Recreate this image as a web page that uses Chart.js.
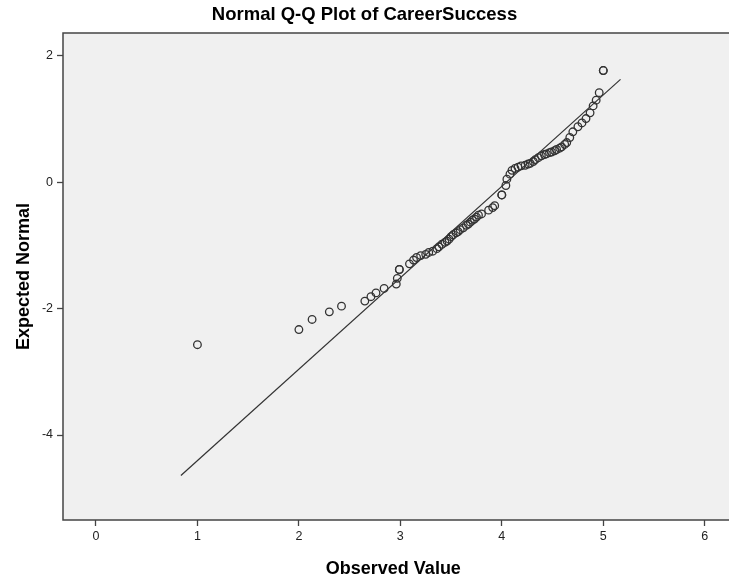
<!DOCTYPE html>
<html>
<head>
<meta charset="utf-8">
<script src="https://cdn.jsdelivr.net/npm/chart.js@4"></script>
<style>
  html, body { margin: 0; padding: 0; background: #ffffff; }
  #wrap { width: 729px; height: 580px; }
</style>
</head>
<body>
<div id="wrap"><canvas id="qqChart" width="729" height="580"></canvas></div>
<script>
// observed values and their expected normal scores (ties drawn twice)
var observed = [1.00, 2.00, 2.13, 2.30, 2.42, 2.65, 2.71, 2.76, 2.84, 2.96, 2.97, 2.99, 2.99,
    3.09, 3.13, 3.16, 3.20, 3.25, 3.28, 3.32, 3.36, 3.38, 3.41, 3.44, 3.46, 3.48, 3.50,
    3.52, 3.55, 3.57, 3.59, 3.62, 3.65, 3.67, 3.69, 3.71, 3.73, 3.75, 3.77, 3.80, 3.87,
    3.91, 3.93, 4.00, 4.00, 4.04, 4.05, 4.08, 4.10, 4.13, 4.16, 4.19, 4.23, 4.26, 4.28,
    4.31, 4.33, 4.36, 4.39, 4.42, 4.44, 4.47, 4.49, 4.52, 4.54, 4.57, 4.59, 4.62, 4.64,
    4.67, 4.70, 4.75, 4.79, 4.83, 4.87, 4.90, 4.93, 4.96, 5.00, 5.00];
var expected = [-2.57, -2.33, -2.17, -2.05, -1.96, -1.88, -1.81, -1.75, -1.68, -1.61, -1.52, -1.38, -1.38,
    -1.29, -1.23, -1.19, -1.16, -1.14, -1.11, -1.09, -1.05, -1.02, -0.98, -0.95, -0.93, -0.90, -0.86,
    -0.83, -0.80, -0.78, -0.75, -0.72, -0.68, -0.66, -0.63, -0.60, -0.58, -0.55, -0.52, -0.50, -0.44,
    -0.40, -0.37, -0.20, -0.20, -0.05, 0.05, 0.13, 0.19, 0.22, 0.24, 0.26, 0.27, 0.29, 0.30,
    0.33, 0.36, 0.39, 0.42, 0.44, 0.45, 0.47, 0.48, 0.50, 0.52, 0.54, 0.56, 0.60, 0.63,
    0.71, 0.80, 0.88, 0.94, 1.01, 1.10, 1.21, 1.30, 1.42, 1.77, 1.77];

// reference line ends
var lineX = [0.837, 5.17];
var lineY = [-4.64, 1.63];

var xTicks = [0, 1, 2, 3, 4, 5, 6];
var yTicks = [-4, -2, 0, 2];

var points = observed.map(function(v, i) { return { x: v, y: expected[i] }; });
var linePts = lineX.map(function(v, i) { return { x: v, y: lineY[i] }; });

var fontFam = "'Liberation Sans', Arial, sans-serif";

// grey plot background + frame (plot runs off the right edge)
var plotFrame = {
    id: 'plotFrame',
    beforeDatasetsDraw: function(chart) {
        var a = chart.chartArea, c = chart.ctx, w = chart.width;
        c.save();
        c.fillStyle = '#f0f0f0';
        c.fillRect(a.left, a.top, w - a.left, a.bottom - a.top);
        c.strokeStyle = '#444';
        c.lineWidth = 1.5;
        c.beginPath();
        c.moveTo(w, a.top);
        c.lineTo(a.left, a.top);
        c.lineTo(a.left, a.bottom);
        c.lineTo(w, a.bottom);
        c.stroke();
        c.restore();
    }
};

var ctx = document.getElementById('qqChart').getContext('2d');
var qqChart = new Chart(ctx, {
    type: 'scatter',
    data: {
        datasets: [{
            type: 'line',
            data: linePts,
            borderColor: '#333',
            borderWidth: 1.2,
            pointRadius: 0,
            fill: false
        }, {
            data: points,
            pointStyle: 'circle',
            pointRadius: 3.8,
            pointBorderWidth: 1.3,
            borderColor: '#333',
            backgroundColor: 'rgba(0,0,0,0)'
        }]
    },
    options: {
        responsive: false,
        animation: false,
        layout: { padding: 0 },
        plugins: {
            legend: { display: false },
            tooltip: { enabled: false },
            title: {
                display: true,
                text: 'Normal Q-Q Plot of CareerSuccess',
                color: '#000',
                font: { family: fontFam, size: 18.5, weight: 'bold' },
                padding: { top: 4, bottom: 6.8 }
            }
        },
        scales: {
            x: {
                min: -0.325,
                max: 6.187,
                afterBuildTicks: function(s) { s.ticks = xTicks.map(function(v) { return { value: v }; }); },
                afterFit: function(s) { s.height = 60; },
                grid: { drawOnChartArea: false, drawTicks: true, tickLength: 6, tickColor: '#444', tickWidth: 1.3 },
                border: { display: false },
                ticks: { color: '#222', padding: 3, font: { family: fontFam, size: 12.5 } },
                title: {
                    display: true,
                    text: 'Observed Value',
                    color: '#000',
                    font: { family: fontFam, size: 18, weight: 'bold' },
                    padding: { top: 4, bottom: 0 }
                }
            },
            y: {
                min: -5.345,
                max: 2.364,
                afterBuildTicks: function(s) { s.ticks = yTicks.map(function(v) { return { value: v }; }); },
                afterFit: function(s) { s.width = 63; },
                grid: { drawOnChartArea: false, drawTicks: true, tickLength: 6, tickColor: '#444', tickWidth: 1.3 },
                border: { display: false },
                ticks: { color: '#222', padding: 4, font: { family: fontFam, size: 12.5 } },
                title: {
                    display: true,
                    text: 'Expected Normal',
                    color: '#000',
                    font: { family: fontFam, size: 18, weight: 'bold' },
                    padding: { top: 13, bottom: 0 }
                }
            }
        }
    },
    plugins: [plotFrame]
});
</script>
</body>
</html>
